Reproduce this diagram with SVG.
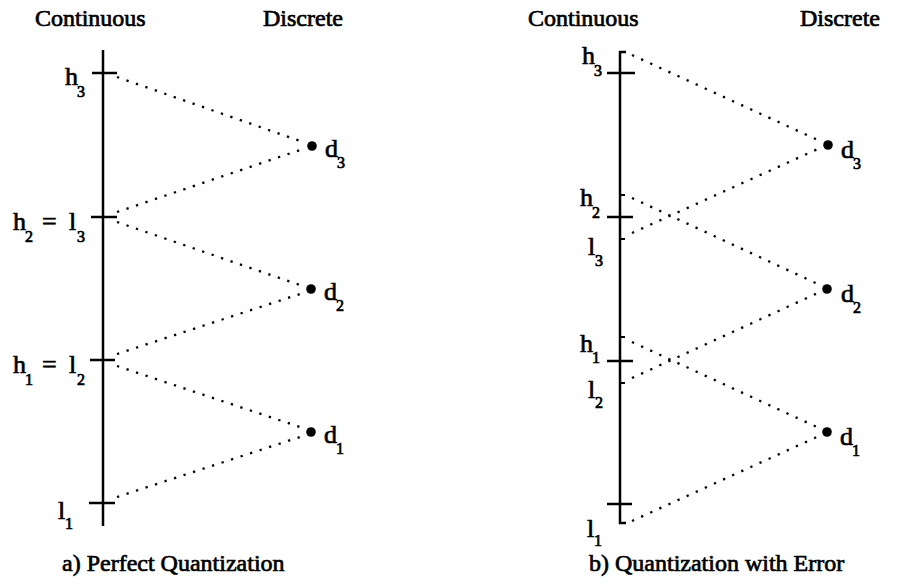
<svg xmlns="http://www.w3.org/2000/svg" width="909" height="584" viewBox="0 0 909 584">
<style>
text{font-family:"Liberation Serif","Times New Roman","DejaVu Serif",serif;fill:#000;stroke:#000;stroke-width:0.7}
.t{font-size:24px}
.m{font-size:26px}
.s{font-size:16px}
.axis{stroke:#000;stroke-width:2.5;fill:none}
.tick{stroke:#000;stroke-width:2.5;fill:none}
.stub{stroke:#000;stroke-width:2;fill:none}
.dl{stroke:#000;stroke-width:2.3;stroke-dasharray:2.3 7.7;fill:none}
.pt{fill:#000}
</style>
<g id="titles">
<text class="t" x="35" y="26">Continuous</text>
<text class="t" x="263" y="26">Discrete</text>
<text class="t" x="528" y="26">Continuous</text>
<text class="t" x="800" y="26">Discrete</text>
<text class="t" x="62" y="571">a) Perfect Quantization</text>
<text class="t" x="589" y="571">b) Quantization with Error</text>
</g>
<g id="panel-a">
<g id="a-axis">
<line class="axis" x1="103" y1="50" x2="103" y2="526"/>
<line class="tick" x1="92" y1="73" x2="117" y2="73"/>
<line class="tick" x1="91" y1="217" x2="117" y2="217"/>
<line class="tick" x1="90" y1="360" x2="115" y2="360"/>
<line class="tick" x1="89" y1="503" x2="115" y2="503"/>
</g>
<g id="a-h3"><text class="m" x="65" y="85">h<tspan class="s" x="77" y="97">3</tspan></text></g>
<g id="a-h2l3"><text class="m" x="13" y="230">h<tspan class="s" x="25" y="242">2</tspan><tspan x="42" y="230">=</tspan><tspan x="69" y="230">l</tspan><tspan class="s" x="77" y="242">3</tspan></text></g>
<g id="a-h1l2"><text class="m" x="13" y="373">h<tspan class="s" x="25" y="385">1</tspan><tspan x="42" y="373">=</tspan><tspan x="69" y="373">l</tspan><tspan class="s" x="77" y="385">2</tspan></text></g>
<g id="a-l1"><text class="m" x="58" y="519">l<tspan class="s" x="65" y="529">1</tspan></text></g>
<g id="a-d3"><circle class="pt" cx="312" cy="146" r="4.8"/><text class="m" x="325" y="157">d<tspan class="s" x="337" y="168">3</tspan></text></g>
<g id="a-d2"><circle class="pt" cx="311" cy="289" r="4.8"/><text class="m" x="324" y="300">d<tspan class="s" x="336" y="311">2</tspan></text></g>
<g id="a-d1"><circle class="pt" cx="311" cy="432" r="4.8"/><text class="m" x="324" y="443">d<tspan class="s" x="336" y="454">1</tspan></text></g>
</g>
<g id="panel-b">
<g id="b-axis">
<polyline class="axis" points="626,52 620,52 620,523 626,523"/>
<line class="tick" x1="607" y1="73" x2="635" y2="73"/>
<line class="tick" x1="607" y1="217" x2="633" y2="217"/>
<line class="tick" x1="607" y1="361" x2="633" y2="361"/>
<line class="tick" x1="607" y1="504" x2="632" y2="504"/>
<line class="stub" x1="620" y1="195" x2="625" y2="195"/>
<line class="stub" x1="620" y1="239" x2="625" y2="239"/>
<line class="stub" x1="620" y1="337" x2="625" y2="337"/>
<line class="stub" x1="620" y1="383" x2="625" y2="383"/>
</g>
<g id="b-h3"><text class="m" x="582" y="64">h<tspan class="s" x="594" y="76">3</tspan></text></g>
<g id="b-h2"><text class="m" x="580" y="206">h<tspan class="s" x="592" y="218">2</tspan></text></g>
<g id="b-l3"><text class="m" x="588" y="255">l<tspan class="s" x="595" y="266">3</tspan></text></g>
<g id="b-h1"><text class="m" x="580" y="352">h<tspan class="s" x="592" y="363">1</tspan></text></g>
<g id="b-l2"><text class="m" x="588" y="398">l<tspan class="s" x="595" y="408">2</tspan></text></g>
<g id="b-l1"><text class="m" x="587" y="537">l<tspan class="s" x="594" y="546">1</tspan></text></g>
<g id="b-d3"><circle class="pt" cx="828" cy="145" r="4.8"/><text class="m" x="841" y="158">d<tspan class="s" x="853" y="169">3</tspan></text></g>
<g id="b-d2"><circle class="pt" cx="827" cy="289" r="4.8"/><text class="m" x="841" y="302">d<tspan class="s" x="853" y="313">2</tspan></text></g>
<g id="b-d1"><circle class="pt" cx="827" cy="432" r="4.8"/><text class="m" x="840" y="445">d<tspan class="s" x="852" y="456">1</tspan></text></g>
</g>
<g id="connectors">
<line class="dl" x1="117" y1="77" x2="303" y2="142"/>
<line class="dl" x1="117" y1="212" x2="303" y2="149"/>
<line class="dl" x1="117" y1="222" x2="303" y2="286"/>
<line class="dl" x1="117" y1="354" x2="303" y2="293"/>
<line class="dl" x1="117" y1="366" x2="303" y2="428"/>
<line class="dl" x1="117" y1="497" x2="303" y2="436"/>
<line class="dl" x1="632" y1="55" x2="820" y2="141"/>
<line class="dl" x1="632" y1="233" x2="820" y2="148"/>
<line class="dl" x1="632" y1="198" x2="820" y2="285"/>
<line class="dl" x1="632" y1="378" x2="820" y2="292"/>
<line class="dl" x1="632" y1="342" x2="819" y2="428"/>
<line class="dl" x1="632" y1="521" x2="819" y2="436"/>
</g>
</svg>
